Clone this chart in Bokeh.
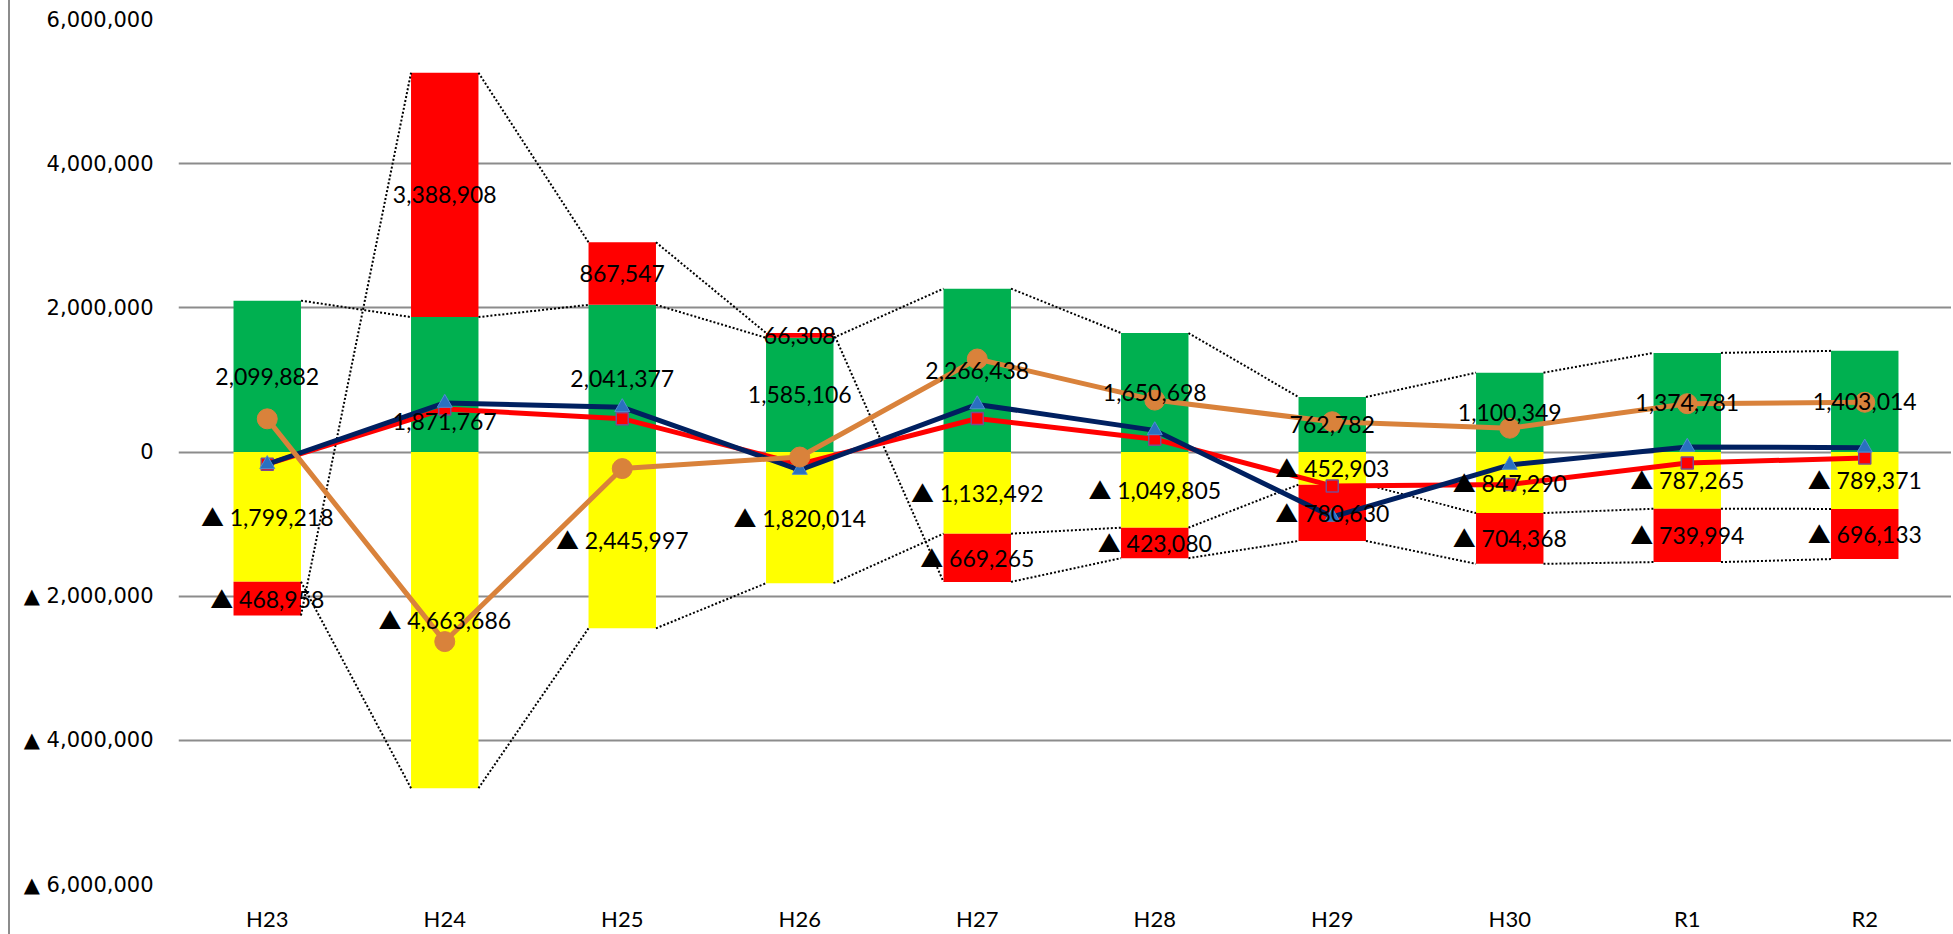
from bokeh.plotting import figure
from bokeh.models import Range1d, FixedTicker, ColumnDataSource
from bokeh.core.properties import value
from bokeh.embed import file_html
from bokeh.resources import INLINE

years = ["H23", "H24", "H25", "H26", "H27", "H28", "H29", "H30", "R1", "R2"]
green = [2099882, 1871767, 2041377, 1585106, 2266438, 1650698, 762782, 1100349, 1374781, 1403014]
yellow = [-1799218, -4663686, -2445997, -1820014, -1132492, -1049805, -452903, -847290, -787265, -789371]
red = [-468958, 3388908, 867547, 66308, -669265, -423080, -780630, -704368, -739994, -696133]
red_line = [-168294, 596989, 462927, -168600, 464681, 177813, -470751, -451309, -152478, -82490]
navy_line = [-170000, 680000, 620000, -250000, 660000, 300000, -900000, -180000, 70000, 60000]
orange_line = [460000, -2630000, -230000, -70000, 1290000, 720000, 420000, 330000, 670000, 690000]
y_ticks = [-6000000, -4000000, -2000000, 0, 2000000, 4000000, 6000000]

FONT = "Lato, 'Noto Sans CJK JP'"
TICK_FONT = "DejaVu Sans"
GREEN, RED, YELLOW = "#00B050", "#FF0000", "#FFFF00"
ORANGE, NAVY = "#D9823B", "#002060"
BAR_W = 0.38
n = len(years)
xs = [i + 0.5 for i in range(n)]

def fmt(v):
    return ("▲ " if v < 0 else "") + f"{abs(v):,}"

p = figure(width=1943, height=934, x_range=Range1d(0, n), y_range=Range1d(-6e6, 6e6),
           output_backend="svg", toolbar_location=None,
           min_border_left=168, min_border_right=0, min_border_top=19, min_border_bottom=50)
p.styles = {"margin-left": "8px", "border-left": "2px solid #8c8c8c"}
p.outline_line_color = None
p.background_fill_color = "white"
p.border_fill_color = "white"

# axes
p.yaxis.ticker = FixedTicker(ticks=y_ticks)
p.yaxis.major_label_overrides = {float(t): fmt(t) for t in y_ticks}
p.yaxis.axis_line_color = None
p.yaxis.major_tick_line_color = None
p.yaxis.minor_tick_line_color = None
p.yaxis.major_tick_out = 0
p.yaxis.major_tick_in = 0
p.yaxis.major_label_standoff = 25
p.yaxis.major_label_text_font = TICK_FONT
p.yaxis.major_label_text_font_size = "21px"
p.yaxis.major_label_text_color = "#000000"

p.xaxis.ticker = FixedTicker(ticks=xs)
p.xaxis.major_label_overrides = {float(x): y for x, y in zip(xs, years)}
p.xaxis.axis_line_color = None
p.xaxis.major_tick_line_color = None
p.xaxis.minor_tick_line_color = None
p.xaxis.major_tick_out = 0
p.xaxis.major_tick_in = 0
p.xaxis.major_label_standoff = 20
p.xaxis.major_label_text_font = "Lato"
p.xaxis.major_label_text_font_size = "22px"
p.xaxis.major_label_text_color = "#000000"

p.xgrid.grid_line_color = None
p.ygrid.ticker = FixedTicker(ticks=y_ticks)
p.ygrid.grid_line_color = "#8c8c8c"
p.ygrid.grid_line_width = 2

# stacked bars
rp_bottom = list(green)
rp_top = [g + (r if r > 0 else 0) for g, r in zip(green, red)]
rn_bottom = [yv + (r if r < 0 else 0) for yv, r in zip(yellow, red)]

p.vbar(x=xs, width=BAR_W, bottom=0, top=green, fill_color=GREEN, line_color=None)
p.vbar(x=xs, width=BAR_W, bottom=rp_bottom, top=rp_top, fill_color=RED, line_color=None)
p.vbar(x=xs, width=BAR_W, bottom=yellow, top=0, fill_color=YELLOW, line_color=None)
p.vbar(x=xs, width=BAR_W, bottom=rn_bottom, top=yellow, fill_color=RED, line_color=None)

# series (connector) lines
red_end = [rp_top[i] if red[i] > 0 else rn_bottom[i] for i in range(n)]
x0, y0, x1, y1 = [], [], [], []
for series in (green, yellow, red_end):
    for i in range(n - 1):
        x0.append(xs[i] + BAR_W / 2)
        y0.append(series[i])
        x1.append(xs[i + 1] - BAR_W / 2)
        y1.append(series[i + 1])
p.segment(x0=x0, y0=y0, x1=x1, y1=y1, line_color="black", line_width=2, line_dash="2 2")

# lines
p.line(xs, red_line, line_color=RED, line_width=5)
p.scatter(xs, red_line, marker="square", size=12, fill_color=RED, line_color="#7E4A8E", line_width=1.5)
p.line(xs, navy_line, line_color=NAVY, line_width=5)
p.scatter(xs, navy_line, marker="triangle", size=15, fill_color="#2A70C0", line_color="#4F8FD0", line_width=1)
p.line(xs, orange_line, line_color=ORANGE, line_width=5)
p.scatter(xs, orange_line, marker="circle", size=20, fill_color=ORANGE, line_color=ORANGE)

# data labels
lx, ly, lt = [], [], []
nudge = {1: -510000}
for i in range(n):
    lx.append(xs[i]); ly.append(green[i] / 2 + nudge.get(i, 0)); lt.append(fmt(green[i]))
    lx.append(xs[i]); ly.append(yellow[i] / 2); lt.append(fmt(yellow[i]))
    if red[i] > 0:
        ly.append(green[i] + red[i] / 2)
    else:
        ly.append(yellow[i] + red[i] / 2)
    lx.append(xs[i]); lt.append(fmt(red[i]))
src = ColumnDataSource(dict(x=lx, y=ly, t=lt))
p.text(x="x", y="y", text="t", source=src, text_align="center", text_baseline="middle",
       text_font=value(FONT), text_font_size="23px", text_color="black")

open("out.html", "w").write(file_html(p, INLINE))
